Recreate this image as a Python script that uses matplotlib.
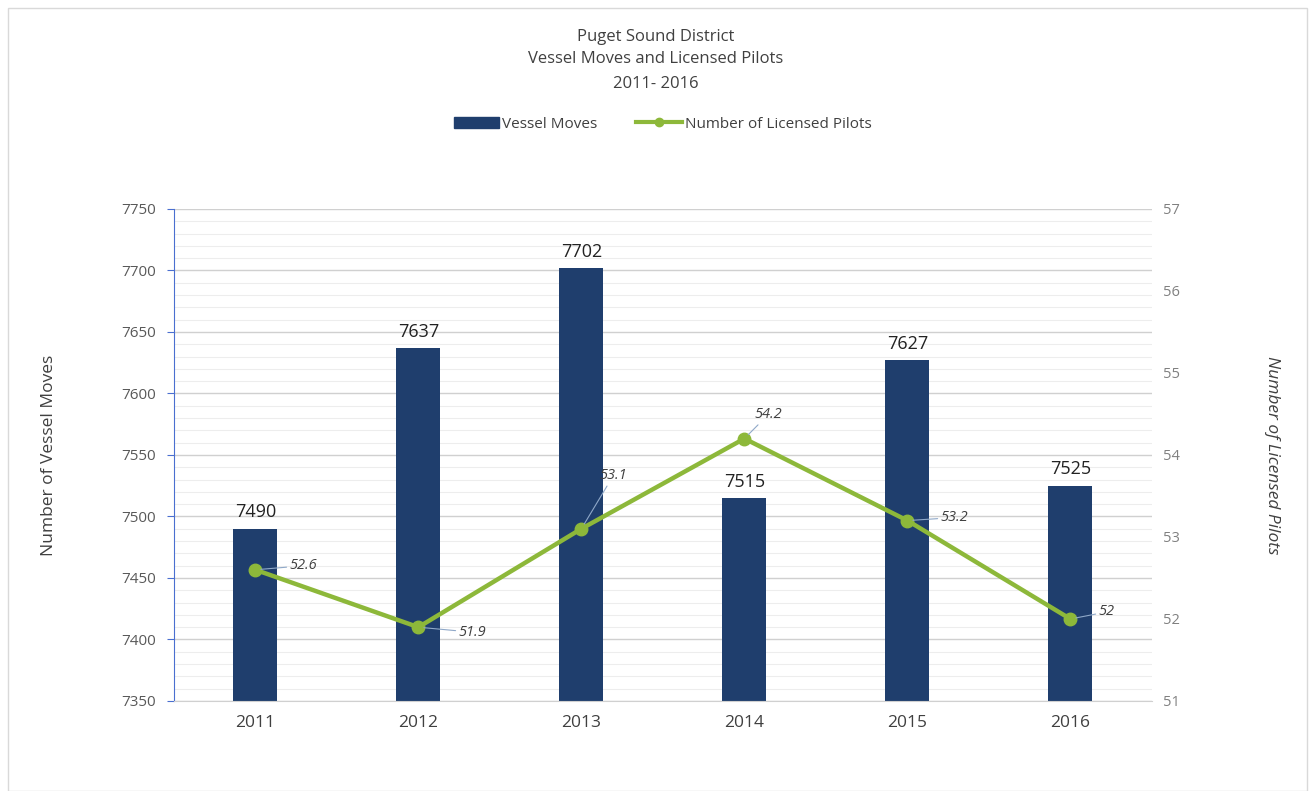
import matplotlib.pyplot as plt
from matplotlib.patches import Rectangle
from matplotlib.ticker import MultipleLocator

years = ['2011', '2012', '2013', '2014', '2015', '2016']
vessel_moves = [7490, 7637, 7702, 7515, 7627, 7525]
pilots = [52.6, 51.9, 53.1, 54.2, 53.2, 52.0]
pilot_labels = ['52.6', '51.9', '53.1', '54.2', '53.2', '52']
# label offsets in pixels from the marker (dx, dy up)
label_offsets = [(34, 4), (40, -5), (18, 53), (10, 24), (33, 3), (28, 7)]

bar_color = '#1F3E6D'
line_color = '#8DB83A'
txt = '#404040'

plt.rcParams['font.family'] = ['Open Sans', 'DejaVu Sans']

fig = plt.figure(figsize=(13.12, 7.91), dpi=100)
fig.patches.append(Rectangle((0.006, 0.0), 0.99, 0.99, transform=fig.transFigure,
                             fill=False, edgecolor='#D9D9D9', lw=1))
ax = fig.add_axes([0.1325, 0.1138, 0.7455, 0.622])
x = list(range(len(years)))

ax.bar(x, vessel_moves, width=0.27, color=bar_color, zorder=2)
ax.set_ylim(7350, 7750)
ax.set_xlim(-0.5, 5.5)
ax.yaxis.set_major_locator(MultipleLocator(50))
ax.yaxis.set_minor_locator(MultipleLocator(10))
ax.grid(which='major', axis='y', color='#D0D0D0', lw=1.0, zorder=0)
ax.grid(which='minor', axis='y', color='#EDEDED', lw=0.8, zorder=0)
ax.set_xticks(x)
ax.set_xticklabels(years, fontsize=12.5, color=txt)
ax.tick_params(axis='x', length=0, pad=10)
ax.tick_params(axis='y', which='major', labelsize=11, labelcolor='#595959',
               color='#4A6FD0', length=5, pad=8)
ax.tick_params(axis='y', which='minor', length=0)
for s in ['top', 'right']:
    ax.spines[s].set_visible(False)
ax.spines['left'].set_color('#4A6FD0')
ax.spines['bottom'].set_color('#D0D0D0')
ax.set_ylabel('Number of Vessel Moves', fontsize=12.5, color=txt, labelpad=46)

for xi, v in zip(x, vessel_moves):
    ax.text(xi, v + 6, str(v), ha='center', va='bottom', fontsize=13, color='#222222')

ax2 = ax.twinx()
ax2.set_ylim(51, 57)
ax2.plot(x, pilots, color=line_color, lw=3.2, marker='o', markersize=9, zorder=3)
ax2.tick_params(axis='y', length=0, labelsize=10.5, labelcolor='#808080', pad=8)
for s in ['top', 'right', 'left', 'bottom']:
    ax2.spines[s].set_visible(False)
ax2.set_ylabel('Number of Licensed Pilots', fontsize=12.5, color=txt, style='italic',
               rotation=270, labelpad=72)

for xi, p, lab, (dx, dy) in zip(x, pilots, pilot_labels, label_offsets):
    ax2.annotate(lab, xy=(xi, p), xytext=(dx * 0.72, dy * 0.72), textcoords='offset points',
                 ha='left', va='center', fontsize=10.5, style='italic', color='#404040',
                 arrowprops=dict(arrowstyle='-', color='#8FA8C8', lw=0.8, shrinkA=0, shrinkB=4))

fig.text(0.5, 0.953, 'Puget Sound District', ha='center', va='center', fontsize=12, color=txt)
fig.text(0.5, 0.925, 'Vessel Moves and Licensed Pilots', ha='center', va='center', fontsize=12, color=txt)
fig.text(0.5, 0.894, '2011- 2016', ha='center', va='center', fontsize=12, color=txt)

handles = [Rectangle((0, 0), 1, 1, color=bar_color),
           plt.Line2D([], [], color=line_color, lw=3, marker='o', markersize=6)]
fig.legend(handles, ['Vessel Moves', 'Number of Licensed Pilots'], loc='center',
           bbox_to_anchor=(0.505, 0.843), ncol=2, frameon=False, fontsize=11,
           labelcolor=txt, handlelength=3, columnspacing=2.5, handletextpad=0.2)

fig.savefig('out.png', dpi=100)
